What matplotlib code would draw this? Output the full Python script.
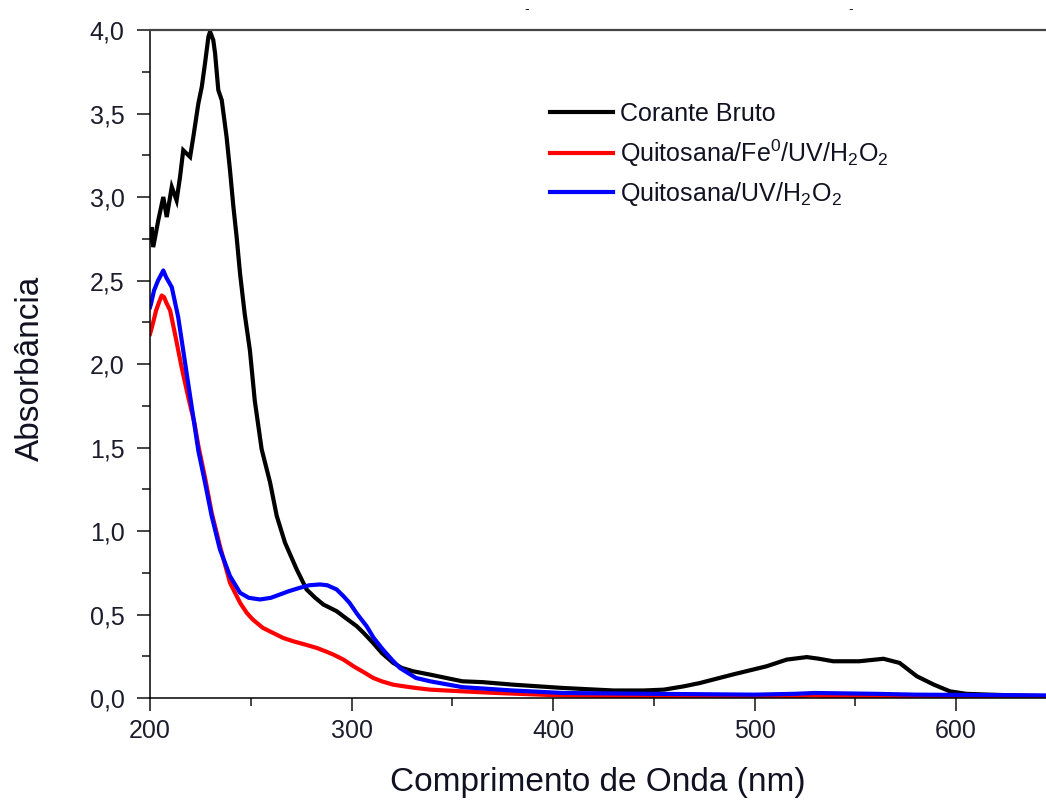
import matplotlib
matplotlib.use("Agg")
import matplotlib.pyplot as plt
from matplotlib.ticker import MultipleLocator, FuncFormatter

# ---------------- data ----------------
wl_bruto = [200, 200.8, 201.6, 204.1, 206.6, 208.3, 210.8, 213.2, 214.9, 216.5,
            219.9, 221.5, 224, 225.7, 227.3, 229, 229.8, 231.4, 232.3, 233.9,
            235.6, 238, 239.7, 241.4, 243, 244.7, 247, 249.6, 252, 255.4,
            259.6, 262.9, 267, 272.8, 277.7, 282, 286, 292.6, 297, 302.6,
            306, 310.7, 315, 320.7, 325, 330.6, 339, 345, 355, 365,
            380, 405, 430, 445, 455, 465, 473, 489, 506, 516,
            526, 532, 539, 552, 564, 572, 580.6, 589, 597, 605,
            617, 630, 650]
abs_bruto = [2.74, 2.82, 2.70, 2.86, 3.00, 2.88, 3.06, 2.98, 3.12, 3.28,
             3.24, 3.36, 3.56, 3.66, 3.80, 3.96, 3.99, 3.94, 3.86, 3.64,
             3.58, 3.36, 3.16, 2.94, 2.76, 2.54, 2.30, 2.08, 1.78, 1.49,
             1.29, 1.09, 0.93, 0.77, 0.65, 0.60, 0.56, 0.52, 0.48, 0.43,
             0.39, 0.33, 0.27, 0.21, 0.18, 0.16, 0.14, 0.125, 0.10, 0.095,
             0.08, 0.06, 0.045, 0.045, 0.05, 0.07, 0.09, 0.14, 0.19, 0.23,
             0.245, 0.235, 0.22, 0.22, 0.235, 0.21, 0.13, 0.08, 0.04, 0.025,
             0.02, 0.015, 0.01]

wl_fe = [200, 200.5, 202, 203, 204.5, 205.8, 207, 208, 210, 212.4,
         215.7, 219, 222, 224, 227.3, 230.6, 234.7, 239.7, 244.7, 248,
         251, 256, 261, 266, 271, 277, 282.7, 287, 291, 296,
         301, 306, 310.8, 315, 320.6, 326, 332, 339, 355, 372,
         405, 450, 500, 520, 530, 540, 580, 650]
abs_fe = [2.18, 2.20, 2.27, 2.32, 2.37, 2.41, 2.40, 2.37, 2.32, 2.18,
          1.98, 1.80, 1.65, 1.51, 1.32, 1.11, 0.91, 0.69, 0.57, 0.51,
          0.47, 0.42, 0.39, 0.36, 0.34, 0.32, 0.30, 0.28, 0.26, 0.23,
          0.19, 0.155, 0.12, 0.10, 0.08, 0.07, 0.06, 0.05, 0.04, 0.03,
          0.015, 0.01, 0.008, 0.012, 0.015, 0.01, 0.008, 0.005]

wl_uv = [200, 200.5, 202, 204, 206.6, 208, 210.8, 214, 216.5, 219,
         221.5, 224, 227.3, 230.6, 234.7, 239.7, 244.7, 249, 254.6, 260,
         264.5, 269, 274.4, 279, 284.4, 288, 292.6, 296, 299, 303,
         307.5, 311, 315.6, 320, 324, 332, 339, 355, 380, 405,
         450, 500, 520, 530, 560, 580, 650]
abs_uv = [2.34, 2.36, 2.44, 2.50, 2.56, 2.52, 2.46, 2.28, 2.08, 1.88,
          1.68, 1.48, 1.29, 1.09, 0.89, 0.73, 0.63, 0.60, 0.59, 0.60,
          0.62, 0.64, 0.66, 0.675, 0.68, 0.675, 0.65, 0.61, 0.57, 0.50,
          0.43, 0.36, 0.29, 0.23, 0.18, 0.12, 0.10, 0.065, 0.045, 0.03,
          0.025, 0.02, 0.025, 0.03, 0.025, 0.02, 0.015]

labels = ["Corante Bruto",
          "Quitosana/Fe$^{0}$/UV/H$_2$O$_2$",
          "Quitosana/UV/H$_2$O$_2$"]
colors = ["#000000", "#ff0000", "#0000ff"]

x_label = "Comprimento de Onda (nm)"
y_label = "Absorbância"

# ---------------- style ----------------
plt.rcParams["font.family"] = ["Liberation Sans", "DejaVu Sans"]
plt.rcParams["mathtext.fontset"] = "custom"
plt.rcParams["mathtext.rm"] = "Liberation Sans"
plt.rcParams["mathtext.it"] = "Liberation Sans:italic"
plt.rcParams["mathtext.bf"] = "Liberation Sans:bold"
plt.rcParams["mathtext.default"] = "regular"

W, H = 1046, 800
fig = plt.figure(figsize=(W / 100, H / 100), dpi=100)

x0, x1 = 200, 650
left_px, bottom_px, top_px = 150, 698, 30
px_per_nm = 2.015
right_px = left_px + (x1 - x0) * px_per_nm
ax = fig.add_axes([left_px / W, (H - bottom_px) / H,
                   (right_px - left_px) / W, (bottom_px - top_px) / H])

lw = 3.0
ax.plot(wl_bruto, abs_bruto, color=colors[0], lw=lw, label=labels[0],
        solid_joinstyle="miter")
ax.plot(wl_fe, abs_fe, color=colors[1], lw=lw, label=labels[1])
ax.plot(wl_uv, abs_uv, color=colors[2], lw=lw, label=labels[2])

ax.set_xlim(x0, x1)
ax.set_ylim(0, 4.0)

ax.xaxis.set_major_locator(MultipleLocator(100))
ax.xaxis.set_minor_locator(MultipleLocator(50))
ax.yaxis.set_major_locator(MultipleLocator(0.5))
ax.yaxis.set_minor_locator(MultipleLocator(0.25))
ax.yaxis.set_major_formatter(FuncFormatter(lambda v, p: f"{v:.1f}".replace(".", ",")))
ax.xaxis.set_major_formatter(FuncFormatter(lambda v, p: f"{int(round(v))}"))

tick_col = "#1c1c2c"
ax.tick_params(which="major", direction="out", length=9.4, width=1.1,
               labelsize=18, labelcolor=tick_col, color="#111111")
ax.tick_params(which="minor", direction="out", length=5.8, width=1.1,
               color="#111111")
ax.tick_params(axis="x", pad=5.5)
ax.tick_params(axis="y", pad=9)
ax.tick_params(top=False, right=False, which="both")

for s in ["left", "bottom"]:
    ax.spines[s].set_color("#000000")
    ax.spines[s].set_linewidth(1.1)
ax.spines["right"].set_visible(False)
ax.spines["top"].set_color("#444444")
ax.spines["top"].set_linewidth(1.6)

ax.set_xlabel(x_label, fontsize=24, color="#111122", va="center")
ax.xaxis.set_label_coords((598 - left_px) / (right_px - left_px),
                          (bottom_px - 783) / (bottom_px - top_px))
ax.set_ylabel(y_label, fontsize=24, color="#111122", va="center")
ax.yaxis.set_label_coords((30 - left_px) / (right_px - left_px),
                          (bottom_px - 368) / (bottom_px - top_px))

leg = ax.legend(loc="upper left",
                bbox_to_anchor=((550 - left_px) / (right_px - left_px),
                                (bottom_px - 102) / (bottom_px - top_px)),
                frameon=False, fontsize=18, handlelength=2.5,
                handletextpad=0.3, labelspacing=0.45,
                borderpad=0, borderaxespad=0)
for t in leg.get_texts():
    t.set_color("#111122")
for l in leg.get_lines():
    l.set_linewidth(3.0)

# small marks left over from a cropped title at the top of the picture
fig.text(527 / W, 1 - 9 / H, "-", fontsize=10, ha="center", va="center", color="#222222")
fig.text(851 / W, 1 - 9 / H, "-", fontsize=10, ha="center", va="center", color="#222222")

fig.savefig("out.png", dpi=100)
